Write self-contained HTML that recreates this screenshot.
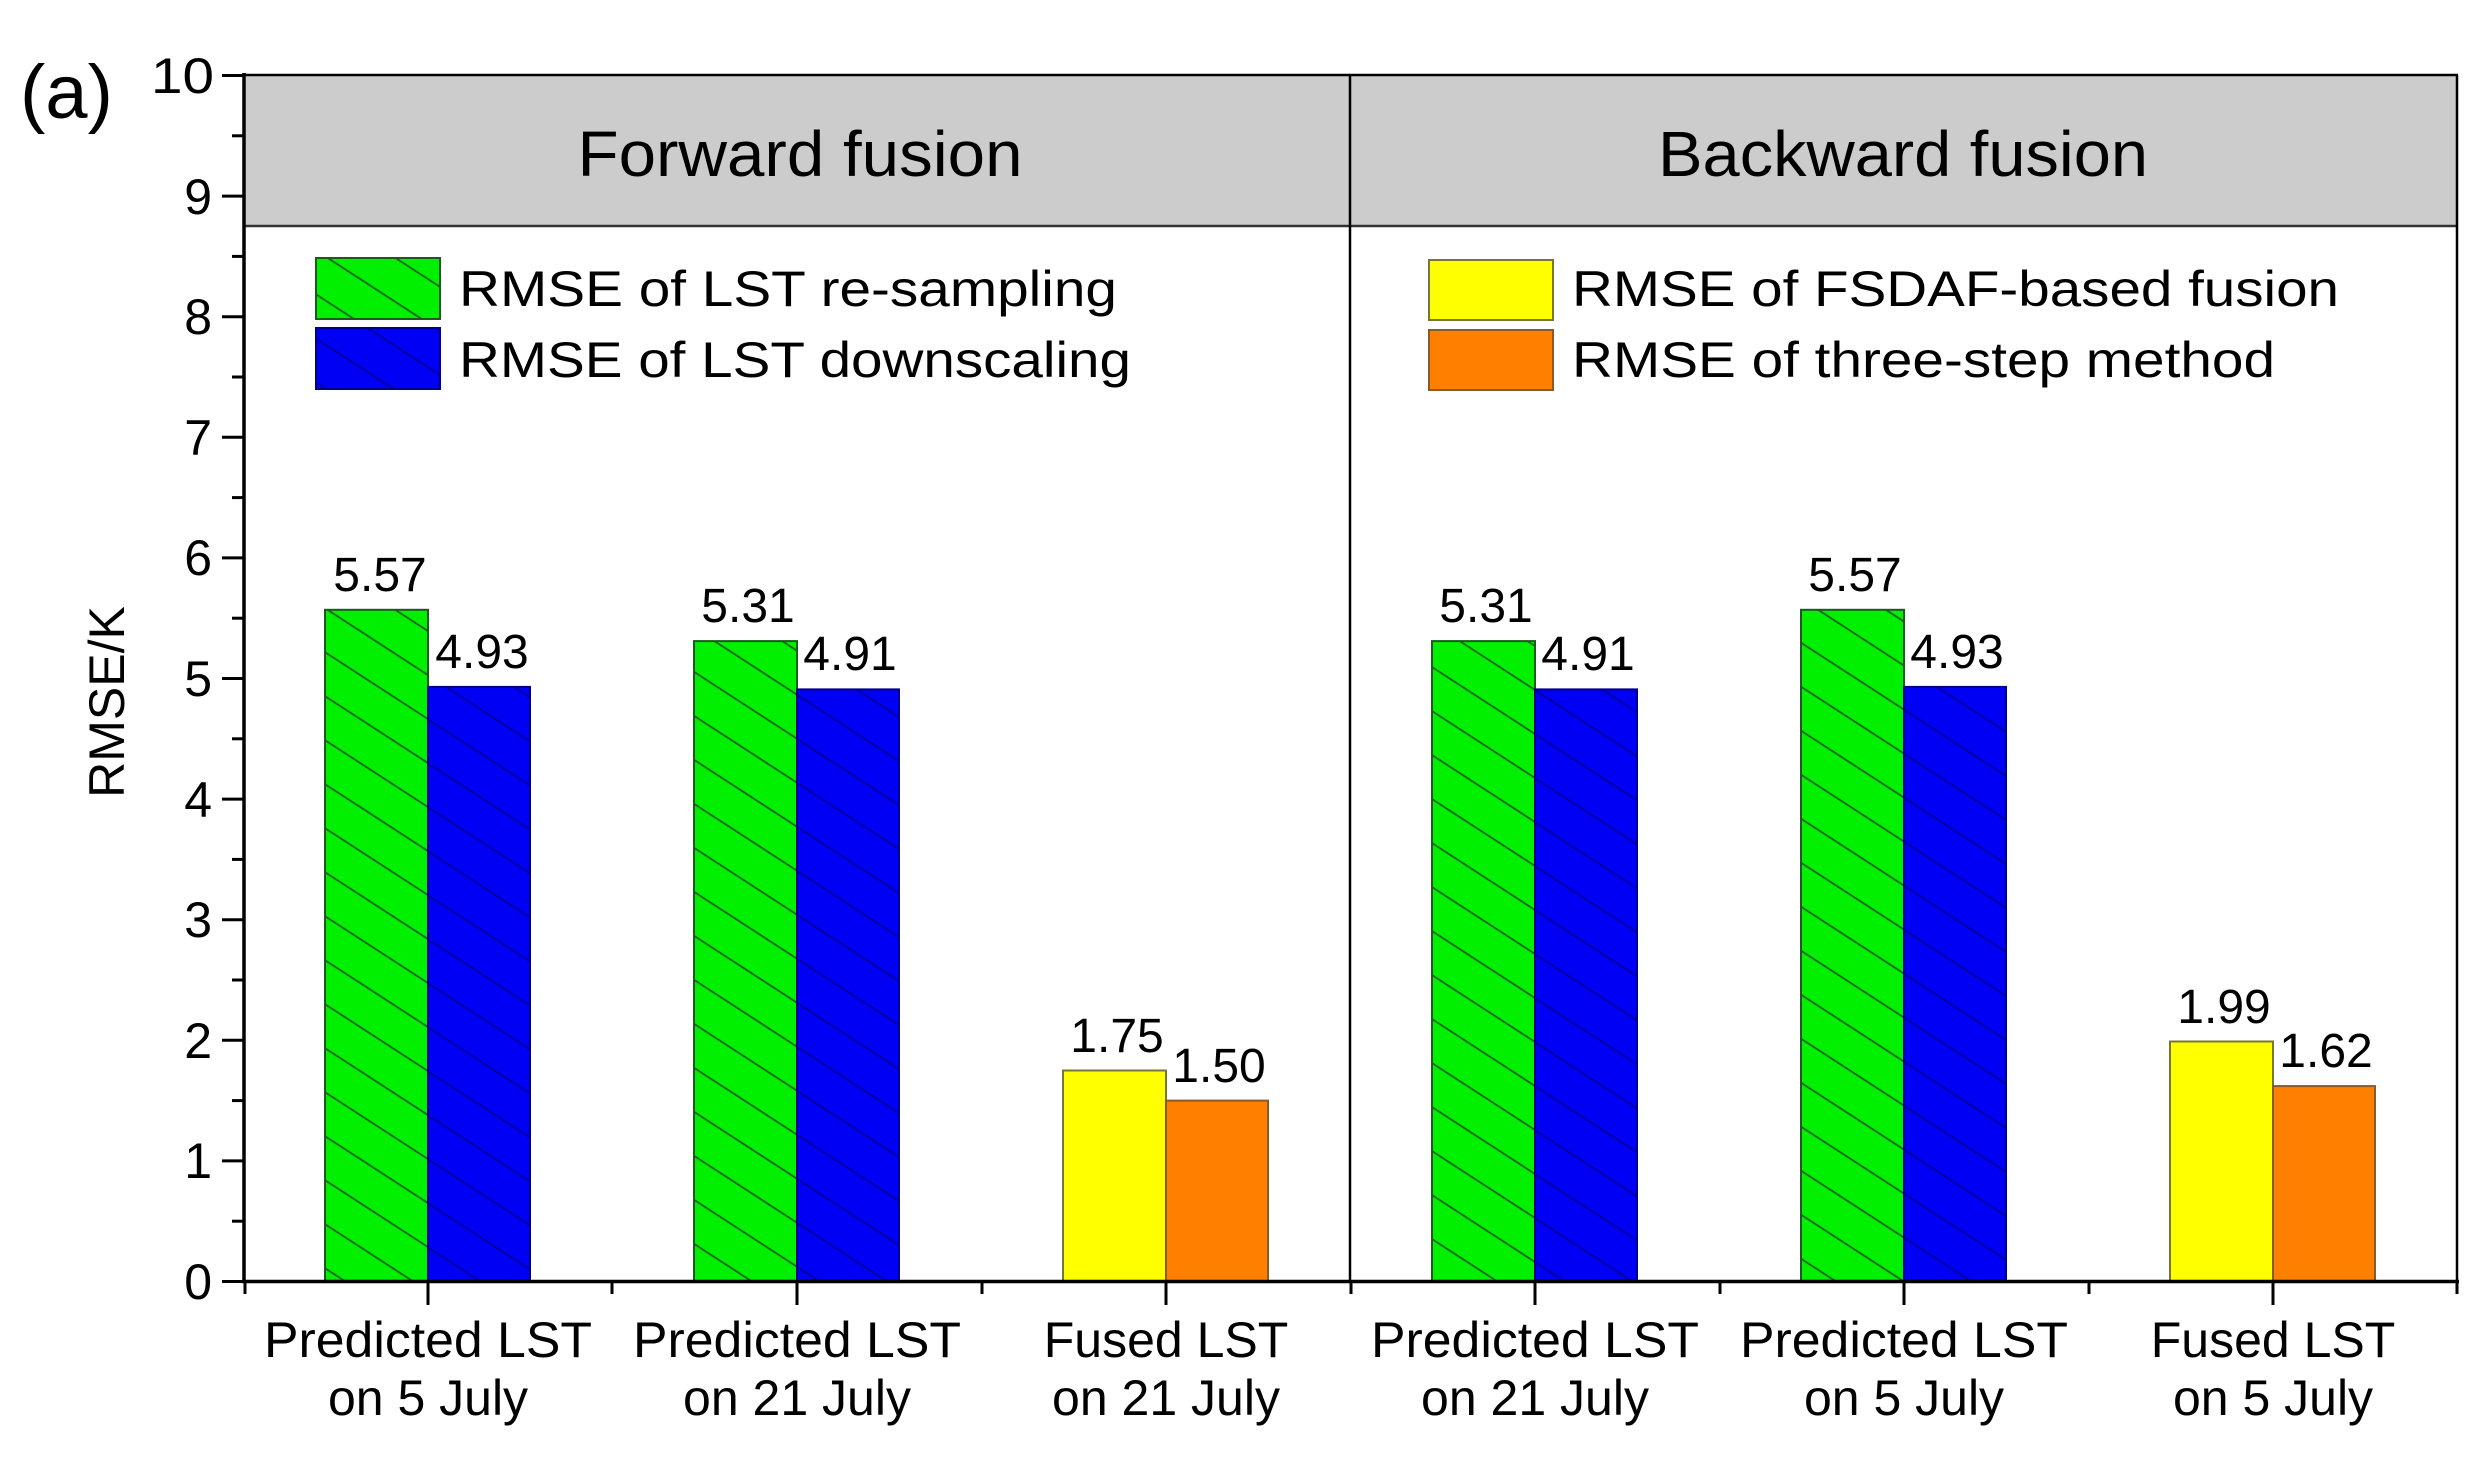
<!DOCTYPE html>
<html><head><meta charset="utf-8"><style>html,body{margin:0;padding:0;background:#fff}svg{display:block}</style></head>
<body>
<svg width="2488" height="1468" viewBox="0 0 2488 1468" xmlns="http://www.w3.org/2000/svg" font-family="Liberation Sans, Arial, sans-serif">
<defs>
<pattern id="hg" patternUnits="userSpaceOnUse" width="75" height="44" patternTransform="skewY(33)">
<rect width="75" height="44" fill="#00f000"/>
<line x1="0" y1="1" x2="75" y2="1" stroke="#1a6a1a" stroke-width="2.5"/>
</pattern>
<pattern id="hb" patternUnits="userSpaceOnUse" width="75" height="44" patternTransform="skewY(33)">
<rect width="75" height="44" fill="#0000f5"/>
<line x1="0" y1="1" x2="75" y2="1" stroke="#0000a8" stroke-width="3"/>
</pattern>
</defs>
<rect width="2488" height="1468" fill="#fff"/>
<rect x="244" y="75" width="2214" height="151" fill="#cccccc"/>
<line x1="244" y1="226" x2="2458" y2="226" stroke="#333" stroke-width="2.5"/>
<line x1="244" y1="75" x2="2458" y2="75" stroke="#000" stroke-width="2.5"/>
<line x1="2457" y1="75" x2="2457" y2="1282" stroke="#000" stroke-width="2.5"/>
<line x1="1350" y1="75" x2="1350" y2="1282" stroke="#000" stroke-width="2.5"/>
<text x="800" y="176" font-size="64" text-anchor="middle" textLength="445" lengthAdjust="spacingAndGlyphs">Forward fusion</text>
<text x="1903" y="176" font-size="64" text-anchor="middle" textLength="490" lengthAdjust="spacingAndGlyphs">Backward fusion</text>

<rect x="316" y="258" width="124" height="61" fill="url(#hg)" stroke="#1a5a1a" stroke-width="2"/>
<rect x="316" y="328" width="124" height="61" fill="url(#hb)" stroke="#00008a" stroke-width="2"/>
<text x="459" y="306" font-size="50" textLength="658" lengthAdjust="spacingAndGlyphs">RMSE of LST re-sampling</text>
<text x="459" y="377" font-size="50" textLength="672" lengthAdjust="spacingAndGlyphs">RMSE of LST downscaling</text>
<rect x="1429" y="260" width="124" height="60" fill="#ffff00" stroke="#777733" stroke-width="2"/>
<rect x="1429" y="330" width="124" height="60" fill="#ff8000" stroke="#8a5a2a" stroke-width="2"/>
<text x="1572" y="306" font-size="50" textLength="767" lengthAdjust="spacingAndGlyphs">RMSE of FSDAF-based fusion</text>
<text x="1572" y="377" font-size="50" textLength="703" lengthAdjust="spacingAndGlyphs">RMSE of three-step method</text>

<g stroke-width="2">
<rect x="325" y="609.8" width="103" height="671.7" fill="url(#hg)" stroke="#1a5a1a"/>
<rect x="428" y="686.9" width="102" height="594.6" fill="url(#hb)" stroke="#00008a"/>
<rect x="694" y="641.1" width="103" height="640.4" fill="url(#hg)" stroke="#1a5a1a"/>
<rect x="797" y="689.4" width="102" height="592.1" fill="url(#hb)" stroke="#00008a"/>
<rect x="1063" y="1070.5" width="103" height="211" fill="#ffff00" stroke="#777733"/>
<rect x="1166" y="1100.6" width="102" height="180.9" fill="#ff8000" stroke="#8a5a2a"/>
<rect x="1432" y="641.1" width="103" height="640.4" fill="url(#hg)" stroke="#1a5a1a"/>
<rect x="1535" y="689.4" width="102" height="592.1" fill="url(#hb)" stroke="#00008a"/>
<rect x="1801" y="609.8" width="103" height="671.7" fill="url(#hg)" stroke="#1a5a1a"/>
<rect x="1904" y="686.9" width="102" height="594.6" fill="url(#hb)" stroke="#00008a"/>
<rect x="2170" y="1041.5" width="103" height="240" fill="#ffff00" stroke="#777733"/>
<rect x="2273" y="1086.1" width="102" height="195.4" fill="#ff8000" stroke="#8a5a2a"/>
</g>
<g font-size="48" text-anchor="middle">
<text x="380" y="591">5.57</text><text x="482" y="668">4.93</text>
<text x="748" y="622">5.31</text><text x="850" y="670">4.91</text>
<text x="1117" y="1052">1.75</text><text x="1219" y="1082">1.50</text>
<text x="1486" y="622">5.31</text><text x="1588" y="670">4.91</text>
<text x="1855" y="591">5.57</text><text x="1957" y="668">4.93</text>
<text x="2224" y="1023">1.99</text><text x="2326" y="1067">1.62</text>
</g>

<line x1="244" y1="73" x2="244" y2="1283" stroke="#000" stroke-width="3.5"/>
<line x1="242" y1="1281.5" x2="2459" y2="1281.5" stroke="#000" stroke-width="3.5"/>
<g stroke="#000" stroke-width="3">
<line x1="222" y1="1281.5" x2="244" y2="1281.5"/><line x1="222" y1="1160.9" x2="244" y2="1160.9"/>
<line x1="222" y1="1040.3" x2="244" y2="1040.3"/><line x1="222" y1="919.7" x2="244" y2="919.7"/>
<line x1="222" y1="799.1" x2="244" y2="799.1"/><line x1="222" y1="678.5" x2="244" y2="678.5"/>
<line x1="222" y1="557.9" x2="244" y2="557.9"/><line x1="222" y1="437.3" x2="244" y2="437.3"/>
<line x1="222" y1="316.7" x2="244" y2="316.7"/><line x1="222" y1="196.1" x2="244" y2="196.1"/>
<line x1="222" y1="75.5" x2="244" y2="75.5"/>
<line x1="232" y1="1221.2" x2="244" y2="1221.2"/><line x1="232" y1="1100.6" x2="244" y2="1100.6"/>
<line x1="232" y1="980" x2="244" y2="980"/><line x1="232" y1="859.4" x2="244" y2="859.4"/>
<line x1="232" y1="738.8" x2="244" y2="738.8"/><line x1="232" y1="618.2" x2="244" y2="618.2"/>
<line x1="232" y1="497.6" x2="244" y2="497.6"/><line x1="232" y1="377" x2="244" y2="377"/>
<line x1="232" y1="256.4" x2="244" y2="256.4"/><line x1="232" y1="135.8" x2="244" y2="135.8"/>
<line x1="428" y1="1281" x2="428" y2="1305"/><line x1="797" y1="1281" x2="797" y2="1305"/>
<line x1="1166" y1="1281" x2="1166" y2="1305"/><line x1="1535" y1="1281" x2="1535" y2="1305"/>
<line x1="1904" y1="1281" x2="1904" y2="1305"/><line x1="2273" y1="1281" x2="2273" y2="1305"/>
<line x1="245" y1="1281" x2="245" y2="1294"/><line x1="612" y1="1281" x2="612" y2="1294"/>
<line x1="982" y1="1281" x2="982" y2="1294"/><line x1="1351" y1="1281" x2="1351" y2="1294"/>
<line x1="1720" y1="1281" x2="1720" y2="1294"/><line x1="2089" y1="1281" x2="2089" y2="1294"/>
<line x1="2457" y1="1281" x2="2457" y2="1294"/>
</g>
<g font-size="50" text-anchor="end">
<text x="212" y="1299">0</text><text x="212" y="1178">1</text><text x="212" y="1058">2</text>
<text x="212" y="937">3</text><text x="212" y="817">4</text><text x="212" y="696">5</text>
<text x="212" y="575">6</text><text x="212" y="455">7</text><text x="212" y="334">8</text>
<text x="212" y="214">9</text><text x="214" y="93" textLength="63" lengthAdjust="spacingAndGlyphs">10</text>
</g>
<text x="20" y="118" font-size="76">(a)</text>
<text transform="translate(124,702) rotate(-90)" font-size="50" text-anchor="middle">RMSE/K</text>

<g font-size="50" text-anchor="middle">
<text x="428" y="1357" textLength="328" lengthAdjust="spacingAndGlyphs">Predicted LST</text>
<text x="428" y="1415">on 5 July</text>
<text x="797" y="1357" textLength="328" lengthAdjust="spacingAndGlyphs">Predicted LST</text>
<text x="797" y="1415">on 21 July</text>
<text x="1166" y="1357">Fused LST</text>
<text x="1166" y="1415">on 21 July</text>
<text x="1535" y="1357" textLength="328" lengthAdjust="spacingAndGlyphs">Predicted LST</text>
<text x="1535" y="1415">on 21 July</text>
<text x="1904" y="1357" textLength="328" lengthAdjust="spacingAndGlyphs">Predicted LST</text>
<text x="1904" y="1415">on 5 July</text>
<text x="2273" y="1357">Fused LST</text>
<text x="2273" y="1415">on 5 July</text>
</g>
</svg>
</body></html>
